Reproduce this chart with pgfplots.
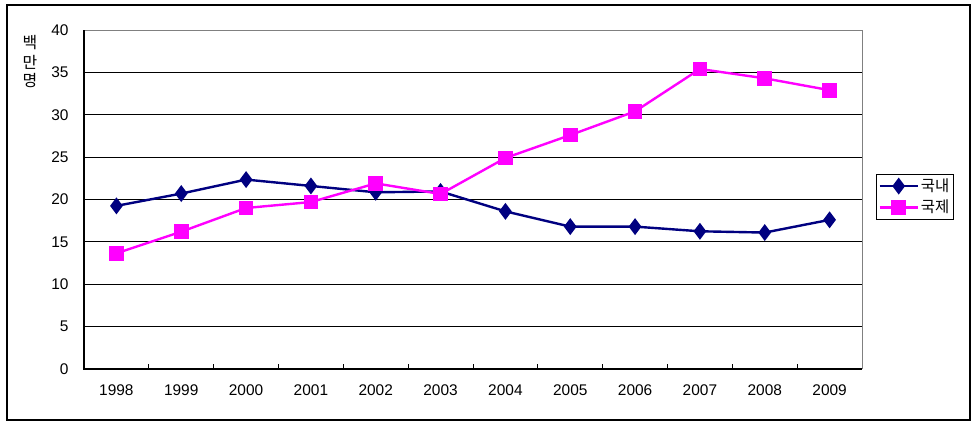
\documentclass[border=0pt]{standalone}
\usepackage{pgfplots}
\pgfplotsset{compat=1.18}
\usepackage{fontspec}
\setmainfont{Liberation Sans}
\newfontfamily\kr{Noto Sans CJK KR}
\definecolor{navy}{HTML}{000080}
\definecolor{mag}{HTML}{FF00FF}
\begin{document}
\begin{tikzpicture}
\path (0,0) rectangle (980bp,-427bp);
\draw[line width=1.2bp] (7bp,-5bp) rectangle (970bp,-420bp);
\node[font=\kr\fontsize{16}{18}\selectfont] at (30bp,-43bp) {백};
\node[font=\kr\fontsize{16}{18}\selectfont] at (30bp,-62bp) {만};
\node[font=\kr\fontsize{16}{18}\selectfont] at (30bp,-81bp) {명};
\begin{axis}[
  at={(84bp,-369bp)}, anchor=south west,
  width=778bp, height=339bp, scale only axis,
  xmin=-0.5, xmax=11.5, ymin=0, ymax=40,
  ytick={0,5,...,40},
  xtick={0,...,11},
  xticklabels={1998,1999,2000,2001,2002,2003,2004,2005,2006,2007,2008,2009},
  minor xtick={0.5,1.5,...,10.5},
  tick pos=left,
  major tick length=0pt,
  minor tick length=5bp,
  tick align=inside,
  tick style={black, line width=0.8bp},
  ymajorgrids, grid style={black, line width=0.8bp},
  axis line style={draw=none},
  /pgf/number format/assume math mode=true,
  tick label style={font=\fontsize{15.5}{17}\selectfont},
  xticklabel style={yshift=-12bp},
  yticklabel style={xshift=-12bp},
  clip=false,
  legend style={at={(1.0175,0.575)}, anchor=north west, draw=black, line width=0.8bp,
    font=\kr\fontsize{15.5}{16}\selectfont, inner sep=2.5bp, row sep=3bp,
    cells={anchor=west}},
  legend cell align=left,
  legend image code/.code={\draw[#1] (0bp,0bp) -- (38bp,0bp); \draw[#1, mark repeat=1] plot coordinates {(19bp,0bp)};},
]
\draw[gray, line width=1bp] (rel axis cs:0,1) -- (rel axis cs:1,1) -- (rel axis cs:1,0);
\draw[black, line width=1.2bp] (rel axis cs:0,1) -- (rel axis cs:0,0) -- (rel axis cs:1,0);
\addplot[navy, line width=2.4bp, mark=diamond*, mark size=6.5bp, mark options={solid, fill=navy}]
 coordinates {(0,19.25) (1,20.7) (2,22.35) (3,21.6) (4,20.85) (5,20.95) (6,18.6) (7,16.8) (8,16.8) (9,16.25) (10,16.1) (11,17.6)};
\addlegendentry{국내}
\addplot[mag, line width=2.4bp, mark=square*, mark size=6.2bp, mark options={solid, fill=mag}]
 coordinates {(0,13.65) (1,16.2) (2,19.0) (3,19.7) (4,21.9) (5,20.65) (6,24.9) (7,27.6) (8,30.4) (9,35.4) (10,34.3) (11,32.9)};
\addlegendentry{국제}
\end{axis}
\end{tikzpicture}
\end{document}
